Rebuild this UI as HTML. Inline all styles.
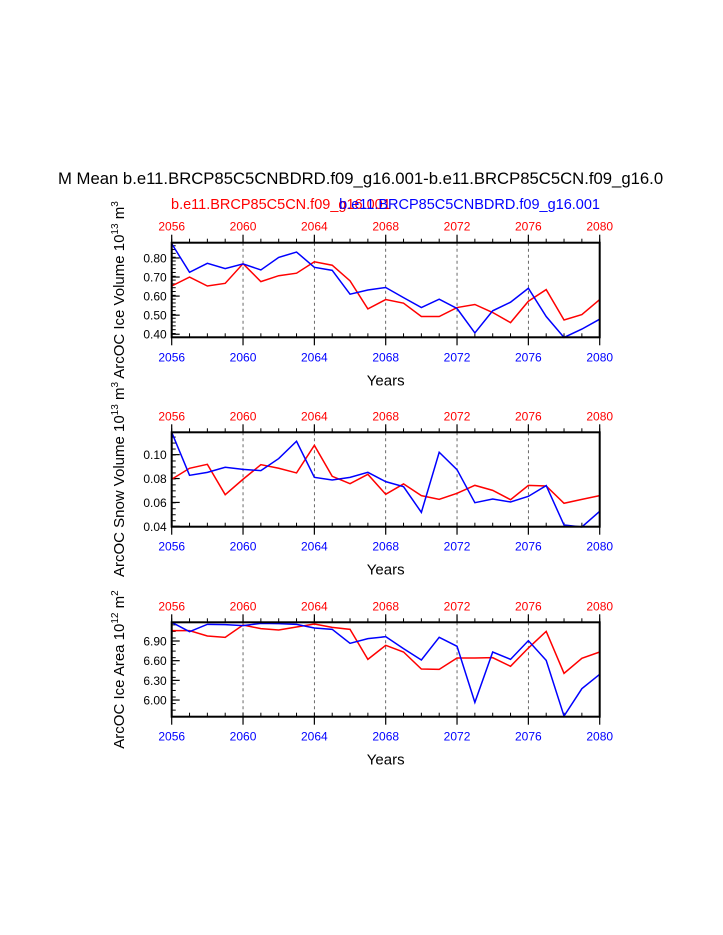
<!DOCTYPE html>
<html><head><meta charset="utf-8"><style>
html,body{margin:0;padding:0;background:#fff;}
svg{display:block;font-family:"Liberation Sans",Helvetica,sans-serif;}
</style></head><body>
<svg id="chart" width="723" height="935" viewBox="0 0 723 935" xmlns="http://www.w3.org/2000/svg">
<text x="58" y="184" font-size="16.7" fill="#000">M Mean b.e11.BRCP85C5CNBDRD.f09_g16.001-b.e11.BRCP85C5CN.f09_g16.0</text>
<text x="171" y="209" font-size="14.5" fill="#ff0000">b.e11.BRCP85C5CN.f09_g16.001</text>
<text x="600" y="209" font-size="14.5" fill="#0000ff" text-anchor="end">b.e11.BRCP85C5CNBDRD.f09_g16.001</text>
</svg>
<script>
const years = [2056,2057,2058,2059,2060,2061,2062,2063,2064,2065,2066,2067,2068,2069,2070,2071,2072,2073,2074,2075,2076,2077,2078,2079,2080];
const xTicks = [2056,2060,2064,2068,2072,2076,2080];
const iceVolRed = [0.653,0.70,0.653,0.667,0.77,0.676,0.707,0.72,0.78,0.762,0.68,0.533,0.582,0.563,0.493,0.493,0.54,0.556,0.514,0.461,0.573,0.634,0.475,0.503,0.582];
const iceVolBlue = [0.875,0.725,0.772,0.744,0.769,0.737,0.803,0.831,0.751,0.735,0.61,0.632,0.645,0.592,0.54,0.584,0.535,0.407,0.523,0.568,0.641,0.493,0.383,0.427,0.479];
const snowRed = [0.0794,0.0886,0.0919,0.0665,0.0794,0.0916,0.0886,0.0847,0.1078,0.0819,0.0757,0.0835,0.0668,0.0755,0.0657,0.0626,0.0676,0.0743,0.0701,0.0623,0.0743,0.0738,0.0593,0.0626,0.0657];
const snowBlue = [0.1187,0.0827,0.0852,0.0894,0.0877,0.0866,0.0967,0.1112,0.081,0.0788,0.081,0.0852,0.0774,0.0732,0.0517,0.102,0.0874,0.0598,0.0629,0.0604,0.0651,0.0741,0.0411,0.0395,0.0526];
const areaRed = [7.058,7.058,6.976,6.956,7.144,7.088,7.068,7.114,7.159,7.108,7.078,6.62,6.834,6.732,6.473,6.468,6.641,6.641,6.646,6.514,6.793,7.047,6.407,6.636,6.732];
const areaBlue = [7.185,7.042,7.154,7.149,7.134,7.169,7.164,7.154,7.098,7.078,6.864,6.936,6.966,6.783,6.61,6.956,6.819,5.964,6.732,6.62,6.905,6.605,5.756,6.173,6.392];
const volTicks = [0.40,0.50,0.60,0.70,0.80];
const snowTicks = [0.04,0.06,0.08,0.10];
const areaTicks = [6.00,6.30,6.60,6.90];

const NS="http://www.w3.org/2000/svg";
const svg=document.getElementById('chart');
function mk(tag,attrs,parent){const e=document.createElementNS(NS,tag);for(const k in attrs)e.setAttribute(k,attrs[k]);(parent||svg).appendChild(e);return e;}

const X0=171.7,X1=599.7;
function xs(yr){return X0+(yr-2056)/(2080-2056)*(X1-X0);}

function panel(o){
  const g=mk('g',{});
  
  
  const ys=v=>o.top+(o.vmax-v)/(o.vmax-o.vmin)*(o.bot-o.top);
  xTicks.slice(1,-1).forEach(t=>{
    const l=mk('line',{x1:xs(t),x2:xs(t),y1:o.top,y2:o.bot,stroke:'#444','stroke-width':0.8,'stroke-dasharray':'3,3'},g);
    
    
  });
  years.forEach(yr=>{
    mk('line',{x1:xs(yr),x2:xs(yr),y1:o.bot,y2:o.bot-4,stroke:'#000','stroke-width':1},g);
    mk('line',{x1:xs(yr),x2:xs(yr),y1:o.top,y2:o.top-4,stroke:'#000','stroke-width':1},g);
  });
  xTicks.forEach(t=>{
    mk('line',{x1:xs(t),x2:xs(t),y1:o.bot,y2:o.bot+8,stroke:'#000','stroke-width':1.2},g);
    mk('line',{x1:xs(t),x2:xs(t),y1:o.top,y2:o.top-8,stroke:'#000','stroke-width':1.2},g);
    const b=mk('text',{x:xs(t),y:o.bot+24,'font-size':12,fill:'#0000ff','text-anchor':'middle'},g);b.textContent=t;
    
    
    const tp=mk('text',{x:xs(t),y:o.top-12,'font-size':12,fill:'#ff0000','text-anchor':'middle'},g);tp.textContent=t;
    
    
  });
  for(let v=o.vmin;v<=o.vmax+1e-9;v+=o.minor){
    const y=ys(v);
    mk('line',{x1:X0,x2:X0+4,y1:y,y2:y,stroke:'#000','stroke-width':1},g);
  }
  o.ticks.forEach(t=>{
    const y=ys(t);
    mk('line',{x1:X0,x2:X0+8,y1:y,y2:y,stroke:'#000','stroke-width':1.2},g);
    const tx=mk('text',{x:X0-5,y:y+4.5,'font-size':12,fill:'#000','text-anchor':'end'},g);tx.textContent=t.toFixed(2);
    
    
  });
  [[o.red,'#ff0000','series-red'],[o.blue,'#0000ff','series-blue']].forEach(([arr,c,n])=>{
    const p=mk('polyline',{points:arr.map((v,i)=>xs(years[i])+','+ys(v)).join(' '),fill:'none',stroke:c,'stroke-width':1.5},g);
    
    
  });
  const r=mk('rect',{x:X0,y:o.top,width:X1-X0,height:o.bot-o.top,fill:'none',stroke:'#000','stroke-width':2},g);
  
  
  const xt=mk('text',{x:(X0+X1)/2,y:o.bot+48,'font-size':15,fill:'#000','text-anchor':'middle'},g);xt.textContent='Years';
  
  
  const cy=(o.top+o.bot)/2;
  const yt=mk('text',{x:0,y:0,'font-size':15,fill:'#000','text-anchor':'middle',transform:`translate(124,${cy}) rotate(-90)`},g);
  yt.innerHTML=o.label+' 10<tspan dy="-6" font-size="10">'+o.exp+'</tspan><tspan dy="6"> '+o.unit+'</tspan><tspan dy="-6" font-size="10">'+o.unitExp+'</tspan>';
  
  
}
panel({name:'ice-volume-panel',top:242.7,bot:337.3,vmin:0.384,vmax:0.88,ticks:volTicks,minor:0.02,red:iceVolRed,blue:iceVolBlue,label:'ArcOC Ice Volume',exp:'13',unit:'m',unitExp:'3'});
panel({name:'snow-volume-panel',top:432.3,bot:526.7,vmin:0.0397,vmax:0.1187,ticks:snowTicks,minor:0.005,red:snowRed,blue:snowBlue,label:'ArcOC Snow Volume',exp:'13',unit:'m',unitExp:'3'});
panel({name:'ice-area-panel',top:622.3,bot:716.7,vmin:5.746,vmax:7.185,ticks:areaTicks,minor:0.1,red:areaRed,blue:areaBlue,label:'ArcOC Ice Area',exp:'12',unit:'m',unitExp:'2'});
</script>
</body></html>
